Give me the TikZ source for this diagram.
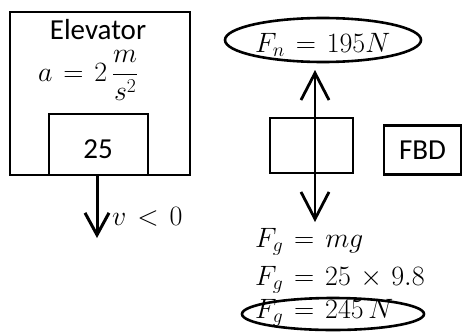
\RequirePackage{fix-cm}
\documentclass[tikz,border=0pt]{standalone}
\usepackage{fontspec}
\newfontfamily\carl{Carlito}
\thickmuskip=7mu plus 2mu
\medmuskip=6mu plus 2mu
\usetikzlibrary{arrows.meta,shapes.geometric}
\begin{document}
\begin{tikzpicture}[x=1pt,y=-1pt,
  frame/.style={draw,line width=2pt,inner sep=0pt,outer sep=0pt},
  thickbox/.style={draw,line width=2.8pt,inner sep=0pt,outer sep=0pt},
  oval/.style={ellipse,draw,line width=2.6pt,inner sep=0pt,outer sep=0pt},
  lbl/.style={font=\carl\fontsize{29}{34}\selectfont,inner sep=0pt},
  mth/.style={font=\fontsize{28}{33}\selectfont,inner sep=0pt},
  force/.style={line width=2.8pt,-{Straight Barb[length=27pt,width=28pt]}},
  motion/.style={line width=3pt,-{Straight Barb[length=22pt,width=24pt]}},
  ]
\useasboundingbox (0,0) rectangle (462,332);
% elevator
\node[frame,minimum width=180pt,minimum height=163pt] (elev) at (100,93.5) {};
\node[frame,minimum width=99pt,minimum height=61pt] (mass) at (98.5,144.5) {};
\node[lbl,anchor=base] (elevlbl) at (98,39) {Elevator};
\node[mth,anchor=base west] (acc) at (38,81) {$\displaystyle a=2\,\frac{m}{s^2}$};
\node[lbl,anchor=base] (masslbl) at (98,158) {25};
\coordinate (vtip) at (97,238);
\draw[motion] (mass.south -| vtip) -- (vtip);
\node[mth,anchor=base west] (vel) at (112,225) {$v<0$};
% free body diagram
\node[thickbox,minimum width=83pt,minimum height=55pt] (body) at (311.5,145.5) {};
\node[thickbox,minimum width=77pt,minimum height=49pt,lbl] (fbd) at (422.5,150) {FBD};
\coordinate (ntip) at (315,70);
\coordinate (gtip) at (315,222);
\draw[force] (ntip |- body.center) -- (ntip);
\draw[force] (gtip |- body.center) -- (gtip);
\node[oval,minimum width=196pt,minimum height=44pt] (fnoval) at (323,40) {};
\node[mth,anchor=base west] (fn) at (255,52) {$F_n = 195N$};
\node[mth,anchor=base west] (fg1) at (255,247) {$F_g = mg$};
\node[mth,anchor=base west] (fg2) at (255,285) {$F_g = 25\times 9.8$};
\node[oval,minimum width=182pt,minimum height=32pt] (fgoval) at (333,314) {};
\node[mth,anchor=base west] (fg3) at (255,318) {$F_g = 245\,N$};
\end{tikzpicture}
\end{document}
